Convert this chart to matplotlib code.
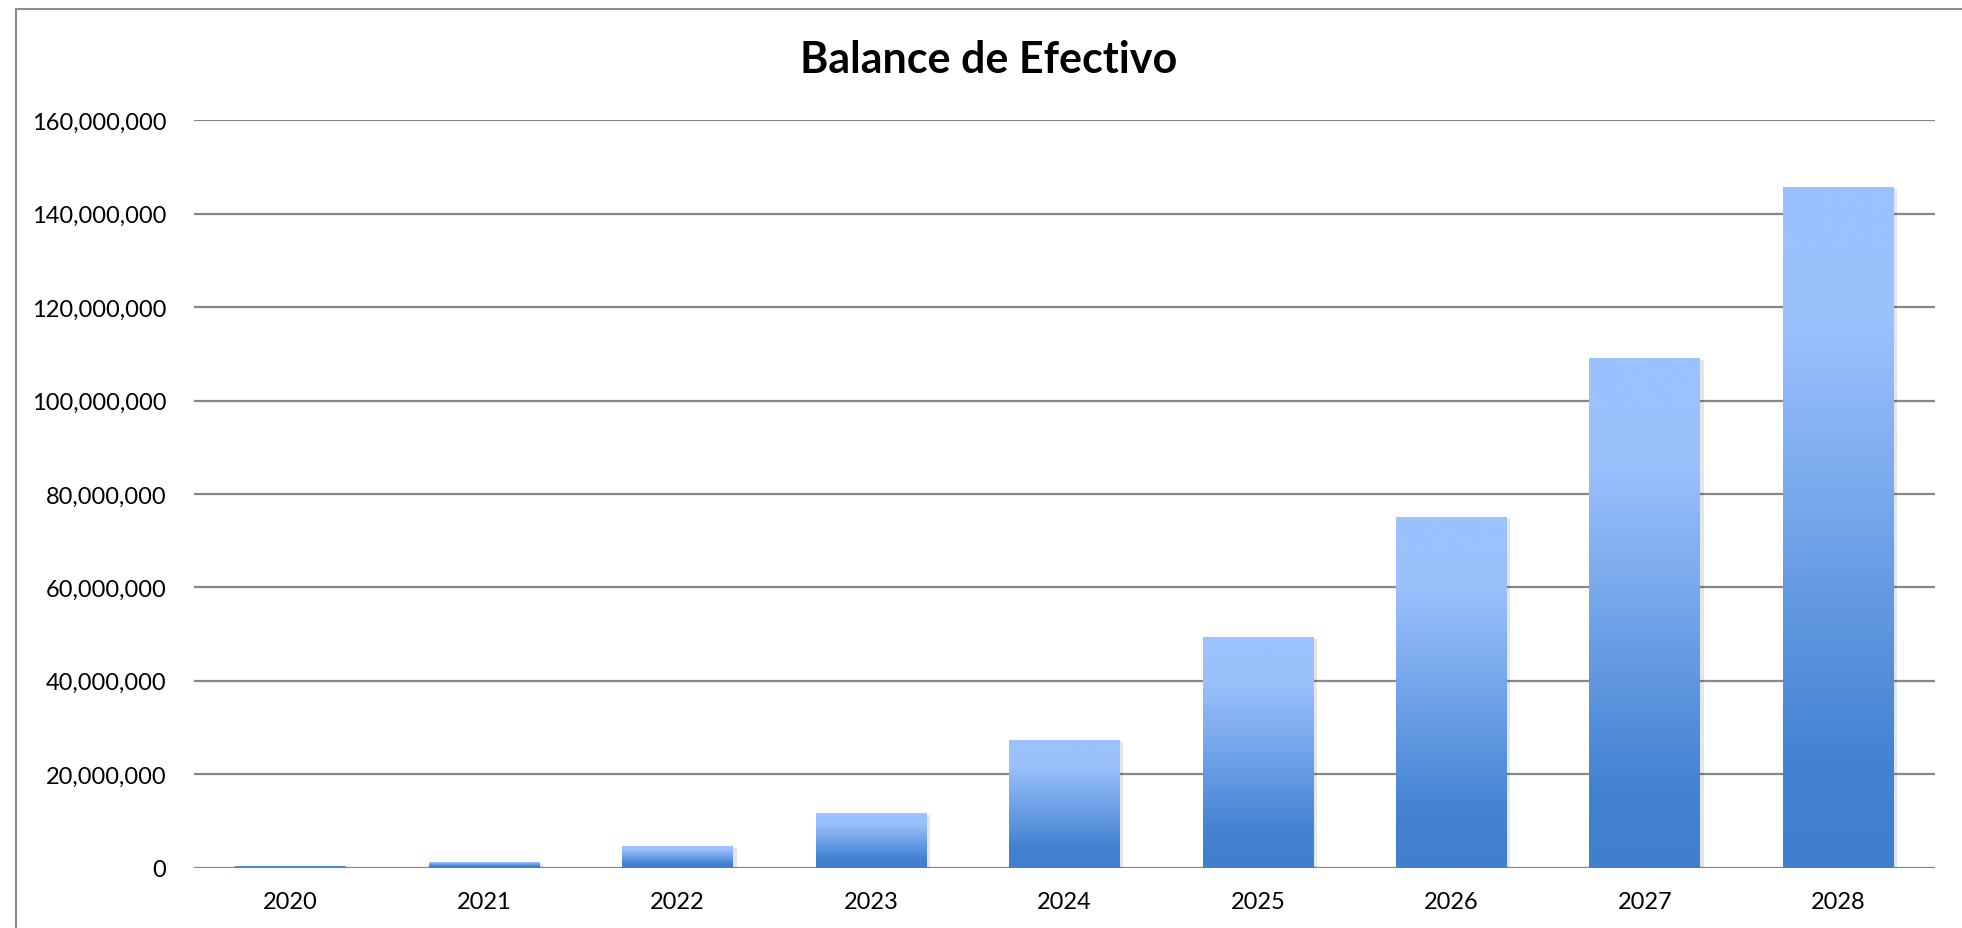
import matplotlib
matplotlib.use("Agg")
import matplotlib.pyplot as plt
import numpy as np
from matplotlib.colors import LinearSegmentedColormap
from matplotlib.ticker import FuncFormatter
from matplotlib.lines import Line2D
import matplotlib.patheffects as pe

# ---- data ----
years = ["2020", "2021", "2022", "2023", "2024", "2025", "2026", "2027", "2028"]
balance = [250_000, 1_130_000, 4_560_000, 11_600_000, 27_400_000,
           49_300_000, 75_100_000, 109_200_000, 145_700_000]
y_ticks = [0, 20_000_000, 40_000_000, 60_000_000, 80_000_000,
           100_000_000, 120_000_000, 140_000_000, 160_000_000]
title = "Balance de Efectivo"

plt.rcParams['font.family'] = ['Lato', 'DejaVu Sans']

W, H = 1962, 929
fig = plt.figure(figsize=(W / 100, H / 100), dpi=100)
fig.patch.set_facecolor('white')

left, right = 194 / W, 1935 / W
bottom = 1 - 868.5 / H
top = 1 - 121.4 / H
ax = fig.add_axes([left, bottom, right - left, top - bottom])

x = np.arange(len(years))
shadow = [pe.SimplePatchShadow(offset=(2.5, -1.5), shadow_rgbFace='#000000', alpha=0.1), pe.Normal()]
bars = ax.bar(x, balance, width=0.573, color='#4080CE', zorder=2, path_effects=shadow)

cmap = LinearSegmentedColormap.from_list(
    'grad', [(0.0, '#3F7FCE'), (0.15, '#4282D1'), (0.8, '#9BC1FD'), (1.0, '#9BC2FF')])
grad = np.linspace(0, 1, 256).reshape(-1, 1)
for b in bars:
    x0, y0 = b.get_x(), b.get_y()
    w, h = b.get_width(), b.get_height()
    im = ax.imshow(grad, cmap=cmap, origin='lower', extent=(x0, x0 + w, y0, y0 + h),
                   aspect='auto', zorder=3, interpolation='bilinear')
    im.set_clip_path(b)

ax.set_xlim(-0.5, len(years) - 0.5)
ax.set_ylim(0, 160_000_000)
ax.set_xticks(x)
ax.set_xticklabels(years)
ax.set_yticks(y_ticks)
ax.yaxis.set_major_formatter(FuncFormatter(lambda v, p: f"{int(v):,}"))
ax.yaxis.grid(True, color='#878787', linewidth=1.6, zorder=0)
ax.set_axisbelow(True)
for s in ax.spines.values():
    s.set_visible(False)
ax.tick_params(axis='both', length=0, labelsize=17, colors='black')
ax.tick_params(axis='y', pad=20)
ax.tick_params(axis='x', pad=17)

fig.text(989 / W, 1 - 60 / H, title, ha='center', va='center',
         fontsize=31, fontweight='bold')

# chart border
bx = 16 / W
by = 1 - 10 / H
fig.add_artist(Line2D([bx, bx], [0, by], transform=fig.transFigure, color='#8C8C8C', lw=1.5))
fig.add_artist(Line2D([bx, 1], [by, by], transform=fig.transFigure, color='#8C8C8C', lw=1.5))

fig.savefig('out.png', dpi=100)
